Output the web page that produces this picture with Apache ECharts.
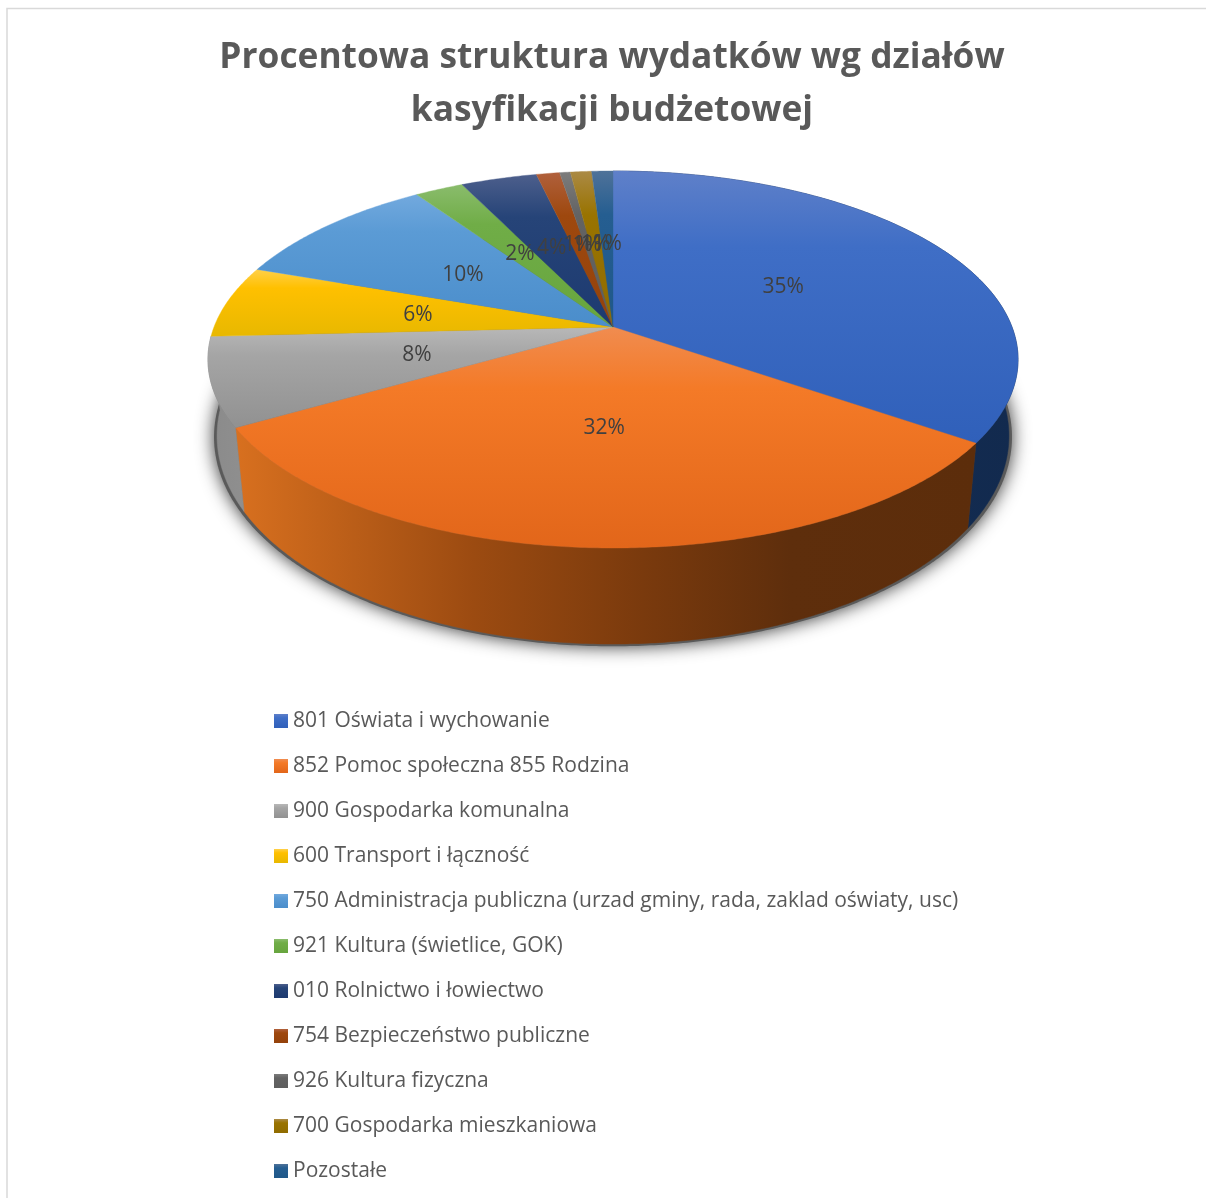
<!DOCTYPE html>
<html><head><meta charset="utf-8">
<style>html,body{margin:0;padding:0;background:#fff}#c{width:1206px;height:1198px}</style>
<script src="https://cdn.jsdelivr.net/npm/echarts@6/dist/echarts.min.js"></script>
</head><body><div id="c"></div>
<script>
const categories = ['801 Oświata i wychowanie','852 Pomoc społeczna 855 Rodzina','900 Gospodarka komunalna','600 Transport i łączność','750 Administracja publiczna (urzad gminy, rada, zaklad oświaty, usc)','921 Kultura (świetlice, GOK)','010 Rolnictwo i łowiectwo','754 Bezpieczeństwo publiczne','926 Kultura fizyczna','700 Gospodarka mieszkaniowa','Pozostałe'];
const shares = [34.7,31.9,7.6,6.2,10.1,2.3,3.6,1.1,0.5,1.0,1.0];
const topColors = [
 ['#5f80c9','#3f6ec6','#3060ba'],['#f08c50','#f47a27','#e2661a'],['#b8b8b8','#a5a5a5','#919191'],
 ['#ffd04a','#ffc000','#e8b800'],['#72a9de','#5b9bd5','#4a8dcb'],['#8abc6c','#70ad47','#67a53e'],
 ['#4d5f8c','#264478','#1d3a70'],['#b0603c','#9e480e','#94420b'],['#7c7c7c','#636363','#5e5e5e'],
 ['#ab8a45','#997300','#906c00'],['#4f7299','#255e91','#1f5889']];
const wallStops = {
 0:[[0,'#16305a'],[1,'#122a4e']],
 1:[[0,'#d8701f'],[0.32,'#9c4b11'],[0.55,'#7a3a0d'],[0.75,'#5e2e0c'],[1,'#5c2d0b']],
 2:[[0,'#8a8a8a'],[1,'#8f8f8f']]
};
const FONT = '"Open Sans"';
const CX = 613, CY = 327, K = -0.1724;
const topPlane = {ax:399, ay:182.9, y0:CY};
const botPlane = {ax:390, ay:202, y0:400};
const G = echarts.graphic;
const grad = c => new G.LinearGradient(0,0,0,1,[{offset:0,color:c[0]},{offset:0.28,color:c[1]},{offset:1,color:c[2]}]);
function proj(pl, deg, r){
  const t = deg*Math.PI/180, x = r*Math.sin(t), y = -r*Math.cos(t), d = 1+K*y;
  return [CX+pl.ax*x/d, pl.y0+pl.ay*y/d];
}
const total = shares.reduce((a,b)=>a+b,0);
let acc = 0;
const spans = shares.map(v=>{const a=acc/total*360; acc+=v; return [a,acc/total*360];});
function arc(pl,a,b){const n=Math.max(2,Math.ceil((b-a)*2)),p=[];for(let i=0;i<=n;i++)p.push(proj(pl,a+(b-a)*i/n,1));return p;}
const series = [{
  type:'custom',name:'cien',coordinateSystem:'none',silent:true,data:[[0]],
  renderItem(){
    return {type:'polygon',z2:0,shape:{points:arc({ax:botPlane.ax+3,ay:botPlane.ay+1,y0:botPlane.y0+1},0,360)},
      style:{fill:'#5a5a5a',shadowBlur:18,shadowColor:'#333',shadowOffsetY:0}};
  }
}];
categories.forEach((name,i)=>{
  series.push({
    type:'custom',name,coordinateSystem:'none',silent:true,data:[[shares[i]]],
    itemStyle:{color:grad(topColors[i])},
    renderItem(){
      const [a,b]=spans[i], kids=[];
      if(wallStops[i]){
        const stops=wallStops[i].map(s=>({offset:s[0],color:s[1]}));
        const f=new G.LinearGradient(0,0,1,0,stops);
        kids.push({type:'polygon',z2:1,shape:{points:arc(topPlane,a,b).concat(arc(botPlane,a,b).reverse())},style:{fill:f,stroke:f,lineWidth:0.5}});
      }
      const g=grad(topColors[i]);
      kids.push({type:'polygon',z2:10,shape:{points:[[CX,CY]].concat(arc(topPlane,a,b))},style:{fill:g,stroke:g,lineWidth:0.4}});
      const m=proj(topPlane,(a+b)/2,0.5);
      kids.push({type:'text',z2:100+i,x:m[0],y:m[1]+1,style:{text:Math.round(shares[i])+'%',fill:'#404040',font:'21px '+FONT,textAlign:'center',textVerticalAlign:'middle'}});
      return {type:'group',children:kids};
    }
  });
});
const chart = echarts.init(document.getElementById('c'),null,{renderer:'canvas'});
chart.setOption({
  animation:false,backgroundColor:'#fff',
  title:{text:'Procentowa struktura wydatków wg działów\nkasyfikacji budżetowej',left:607,top:26,textAlign:'center',
    textStyle:{fontFamily:FONT,fontWeight:'bold',fontSize:35.3,lineHeight:53,color:'#595959'}},
  legend:{orient:'vertical',left:269,top:704,itemWidth:14,itemHeight:14,itemGap:21,icon:'rect',selectedMode:false,data:categories,
    textStyle:{fontFamily:FONT,fontSize:21,lineHeight:24,color:'#595959'}},
  graphic:[{type:'rect',silent:true,shape:{x:7,y:8.5,width:1400,height:1400},style:{fill:'none',stroke:'#d9d9d9',lineWidth:1.5}}],
  series
});
</script></body></html>
